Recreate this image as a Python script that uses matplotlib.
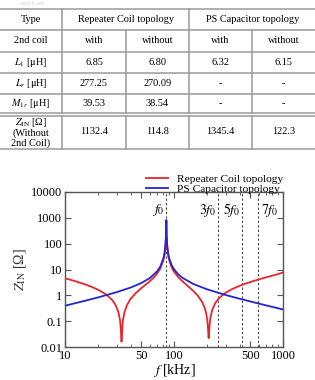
import matplotlib
matplotlib.use("Agg")
import matplotlib.pyplot as plt
from matplotlib.ticker import FixedLocator, FixedFormatter, LogLocator, NullLocator

plt.rcParams['font.family'] = ['Liberation Serif', 'DejaVu Serif']
plt.rcParams['mathtext.fontset'] = 'stix'

# ---- table data ----
row_labels = ["Type", "2nd coil", "$L_1$ [μH]", "$L_r$ [μH]", "$M_{1r}$ [μH]",
              "$Z_{\\rm IN}$ [Ω]\n(Without\n2nd Coil)"]
group_labels = ["Repeater Coil topology", "PS Capacitor topology"]
sub_labels = ["with", "without", "with", "without"]
L1_vals = ["6.85", "6.80", "6.32", "6.15"]
Lr_vals = ["277.25", "270.09", "-", "-"]
M1r_vals = ["39.53", "38.54", "-", "-"]
zin_vals = ["1132.4", "114.8", "1345.4", "122.3"]

# ---- chart data ----
f_red = [10, 12, 15, 18, 21, 24, 27, 29, 31, 32, 32.5, 32.8, 33, 33.2, 33.5, 34, 35, 37,
         40, 45, 50, 55, 60, 65, 70, 75, 80, 82, 83.5, 84.3, 84.7, 85, 85.3, 85.7, 86.5,
         88, 90, 95, 100, 110, 120, 135, 150, 165, 180, 190, 197, 202, 205, 206, 208,
         210, 212, 216, 225, 240, 260, 290, 330, 380, 440, 520, 620, 740, 870, 1000]
z_red = [4.61, 3.69, 2.73, 2.04, 1.50, 1.06, 0.672, 0.438, 0.215, 0.107, 0.053, 0.0212,
         0.016, 0.0211, 0.0528, 0.105, 0.210, 0.417, 0.729, 1.27, 1.88, 2.60, 3.53, 4.83,
         6.92, 11.0, 22.8, 38.6, 77.9, 168, 392, 800, 393, 169, 79.2, 39.9, 24.1, 12.2,
         8.23, 4.93, 3.44, 2.23, 1.49, 0.978, 0.578, 0.352, 0.208, 0.111, 0.0547, 0.0363,
         0.022, 0.0358, 0.0709, 0.140, 0.288, 0.516, 0.794, 1.17, 1.62, 2.14, 2.72, 3.44,
         4.31, 5.31, 6.37, 7.6]

f_blue = [10, 15, 20, 30, 40, 50, 60, 70, 75, 80, 82, 83.5, 84.3, 84.7, 85, 85.3, 85.7,
          86.5, 88, 90, 95, 100, 110, 120, 150, 200, 300, 400, 600, 800, 1000]
z_blue = [0.396, 0.604, 0.826, 1.34, 2.00, 2.98, 4.66, 8.48, 13.2, 27.3, 46.1, 93.1,
          200, 469, 820, 471, 202, 94.8, 47.8, 29.0, 14.9, 10.2, 6.36, 4.71, 2.77, 1.72,
          1.02, 0.738, 0.479, 0.356, 0.284]

f0 = 85
harmonics = [1, 3, 5, 7]
harm_labels = ["$f_0$", "$3f_0$", "$5f_0$", "$7f_0$"]

x_ticks = [10, 50, 100, 500, 1000]
x_tick_labels = ["10", "50", "100", "500", "1000"]
y_ticks = [0.01, 0.1, 1, 10, 100, 1000, 10000]
y_tick_labels = ["0.01", "0.1", "1", "10", "100", "1000", "10000"]

W, H = 315, 380
fig = plt.figure(figsize=(W / 100, H / 100), dpi=100)

# faint caption remnant at the very top
fig.text(20 / W, 1 - 3.5 / H, "and Coil.", fontsize=5, color="#d4d4d4", va="center")

# ---- table, drawn in pixel units ----
tab_h = 152
tax = fig.add_axes([0, 1 - tab_h / H, 1, tab_h / H])
tax.set_xlim(0, W)
tax.set_ylim(tab_h, 0)
tax.axis("off")

grid_c = "#9a9a9a"
hl = [8.5, 30, 51.5, 73, 94, 113, 115.5, 148.5]
for y in hl:
    tax.plot([0, W], [y, y], color=grid_c, lw=1.1, solid_capstyle="butt")
col_x = [62.3, 125.7, 189, 252.3]
# header row: only the main separators
for x in [62.3, 189]:
    tax.plot([x, x], [8.5, 30], color=grid_c, lw=1.1)
for x in col_x:
    tax.plot([x, x], [30, 113], color=grid_c, lw=1.1)
    tax.plot([x, x], [115.5, 148.5], color=grid_c, lw=1.1)

fs_tab = 7.4
row_y = [19.3, 40.7, 62.2, 83.5, 103.5, 132]
for lab, y in zip(row_labels, row_y):
    tax.text(31, y, lab, ha="center", va="center", fontsize=fs_tab, linespacing=1.05)

tax.text(125.7, row_y[0], group_labels[0], ha="center", va="center", fontsize=fs_tab)
tax.text(252.3, row_y[0], group_labels[1], ha="center", va="center", fontsize=fs_tab)
cell_cx = [94, 157.3, 220.6, 283.6]
for vals, y in zip([sub_labels, L1_vals, Lr_vals, M1r_vals, zin_vals], row_y[1:]):
    for cx, v in zip(cell_cx, vals):
        tax.text(cx, y, v, ha="center", va="center", fontsize=fs_tab)

# ---- chart ----
left, right, top, bottom = 65, 283, 192, 347
ax = fig.add_axes([left / W, 1 - bottom / H, (right - left) / W, (bottom - top) / H])
ax.set_xscale("log")
ax.set_yscale("log")

for h in harmonics:
    ax.axvline(h * f0, color="#444444", lw=0.8, linestyle=(0, (2, 2)), zorder=1)

ax.plot(f_red, z_red, color="#e8262a", lw=1.3, label="Repeater Coil topology", zorder=3)
ax.plot(f_blue, z_blue, color="#2424d0", lw=1.3, label="PS Capacitor topology", zorder=4)

for h, lab in zip(harmonics, harm_labels):
    if h == 7:
        ax.text(h * f0 * 1.05, 2000, lab, ha="left", va="center", fontsize=10)
    else:
        ax.text(h * f0 * 0.96, 2000, lab, ha="right", va="center", fontsize=10)

ax.set_xlim(10, 1000)
ax.set_ylim(0.01, 10000)
ax.xaxis.set_major_locator(FixedLocator(x_ticks))
ax.xaxis.set_major_formatter(FixedFormatter(x_tick_labels))
ax.xaxis.set_minor_locator(LogLocator(base=10, subs=(2, 3, 4, 6, 7, 8, 9)))
ax.yaxis.set_major_locator(FixedLocator(y_ticks))
ax.yaxis.set_major_formatter(FixedFormatter(y_tick_labels))
ax.yaxis.set_minor_locator(NullLocator())

ax.tick_params(which="both", direction="in", top=True, right=True, labelsize=9,
               color="#555555")
ax.tick_params(axis="y", pad=2)
ax.tick_params(axis="x", pad=2)
ax.tick_params(which="major", length=4)
ax.tick_params(which="minor", length=2)
for s in ax.spines.values():
    s.set_color("#555555")
    s.set_linewidth(1.0)

ax.set_xlabel("$f$ [kHz]", fontsize=10, labelpad=0)
ax.set_ylabel("$Z_{\\rm IN}$ [Ω]", fontsize=10, labelpad=2, color="#333333")

ax.legend(loc="lower right", bbox_to_anchor=(1.0, 0.985), frameon=False, fontsize=8.2,
          borderpad=0, borderaxespad=0, labelspacing=0.0, handlelength=1.9,
          handletextpad=0.8)

fig.savefig("out.png", dpi=100)
